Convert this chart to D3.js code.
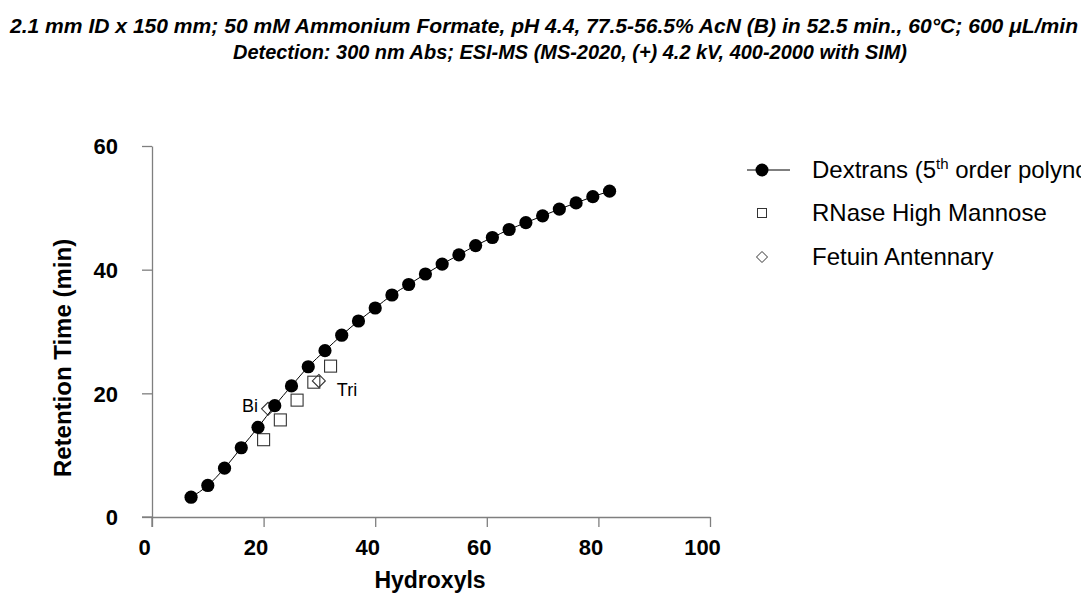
<!DOCTYPE html>
<html><head><meta charset="utf-8">
<script src="https://cdn.jsdelivr.net/npm/d3@7"></script>
<style>body{margin:0;background:#fff} svg{display:block}</style>
</head><body>
<svg id="c" width="1081" height="594"></svg>
<script>
// ---- data ----
const dextranHydroxyls = [7,10,13,16,19,22,25,28,31,34,37,40,43,46,49,52,55,58,61,64,67,70,73,76,79,82];
const dextranRT = [3.2,5.1,7.9,11.2,14.5,18.0,21.2,24.3,26.9,29.4,31.7,33.8,35.9,37.6,39.3,40.9,42.4,43.9,45.2,46.5,47.6,48.7,49.8,50.8,51.8,52.7];
const rnaseHydroxyls = [20,23,26,29,32];
const rnaseRT = [12.5,15.7,18.9,21.8,24.4];
const fetuinLabels = ["Bi","Tri"];
const fetuinHydroxyls = [20.8,29.9];
const fetuinRT = [17.5,22.0];
const xTicks = [0,20,40,60,80,100];
const yTicks = [0,20,40,60];
const titleLines = [
  "2.1 mm ID x 150 mm; 50 mM Ammonium Formate, pH 4.4, 77.5-56.5% AcN (B) in 52.5 min., 60°C; 600 \u03BCL/min",
  "Detection: 300 nm Abs; ESI-MS (MS-2020, (+) 4.2 kV, 400-2000 with SIM)"
];
const xTitle = "Hydroxyls";
const yTitle = "Retention Time (min)";
const legendLabels = ["Dextrans (5", "RNase High Mannose", "Fetuin Antennary"];

// ---- chart ----
const svg = d3.select("#c");
const FONT = "'Liberation Sans', Arial, sans-serif";
const x = d3.scaleLinear().domain([0,100]).range([152,710]);
const y = d3.scaleLinear().domain([0,60]).range([517,146]);
const axisColor = "#7f7f7f";

// titles
svg.append("text").attr("x",10).attr("y",33).attr("font-family",FONT)
  .attr("font-size",20).attr("font-weight","bold").attr("font-style","italic")
  .attr("textLength",1068).attr("lengthAdjust","spacingAndGlyphs").text(titleLines[0]);
svg.append("text").attr("x",233).attr("y",59).attr("font-family",FONT)
  .attr("font-size",20).attr("font-weight","bold").attr("font-style","italic")
  .attr("textLength",674).attr("lengthAdjust","spacingAndGlyphs").text(titleLines[1]);

// axes
const xAxis = svg.append("g").attr("transform",`translate(0,${y(0)})`)
  .call(d3.axisBottom(x).tickValues(xTicks).tickSize(10).tickSizeOuter(0).tickPadding(12));
const yAxis = svg.append("g").attr("transform",`translate(${x(0)},0)`)
  .call(d3.axisLeft(y).tickValues(yTicks).tickSize(10).tickSizeOuter(0).tickPadding(24));
[xAxis,yAxis].forEach(g=>{
  g.select(".domain").attr("stroke",axisColor).attr("stroke-width",1.3);
  g.selectAll(".tick line").attr("stroke",axisColor).attr("stroke-width",1.3);
  g.selectAll(".tick text").attr("fill","#000").attr("font-family",FONT)
   .attr("font-size",22).attr("font-weight","bold");
});
xAxis.selectAll(".tick text").attr("dx",-8);
yAxis.selectAll(".tick text").attr("dy","0.36em");
xAxis.append("line").attr("x1",x(0)-10).attr("x2",x(0)).attr("y1",0).attr("y2",0)
  .attr("stroke",axisColor).attr("stroke-width",1.3);
yAxis.append("line").attr("x1",0).attr("x2",0).attr("y1",y(0)).attr("y2",y(0)+10)
  .attr("stroke",axisColor).attr("stroke-width",1.3);

// axis titles
svg.append("text").attr("x",430).attr("y",588).attr("text-anchor","middle")
  .attr("font-family",FONT).attr("font-size",23).attr("font-weight","bold").text(xTitle);
svg.append("text").attr("transform",`translate(71,358) rotate(-90)`)
  .attr("text-anchor","middle").attr("font-family",FONT).attr("font-size",24)
  .attr("font-weight","bold").text(yTitle);

// RNase squares
const sq = 12;
svg.append("g").selectAll("rect").data(rnaseHydroxyls.map((h,i)=>[h,rnaseRT[i]])).join("rect")
  .attr("x",d=>x(d[0])-sq/2).attr("y",d=>y(d[1])-sq/2).attr("width",sq).attr("height",sq)
  .attr("fill","none").attr("stroke","#333").attr("stroke-width",1.1);

// Fetuin diamonds
const dm = 6.5;
const diamond = (cx,cy,r)=>`M${cx},${cy-r}L${cx+r},${cy}L${cx},${cy+r}L${cx-r},${cy}Z`;
svg.append("g").selectAll("path").data(fetuinHydroxyls.map((h,i)=>[h,fetuinRT[i]])).join("path")
  .attr("d",d=>diamond(x(d[0]),y(d[1]),dm)).attr("fill","none").attr("stroke","#333").attr("stroke-width",1.1);
svg.append("text").attr("x",x(fetuinHydroxyls[0])-10).attr("y",y(fetuinRT[0])+3)
  .attr("text-anchor","end").attr("font-family",FONT).attr("font-size",18).text(fetuinLabels[0]);
svg.append("text").attr("x",x(fetuinHydroxyls[1])+18).attr("y",y(fetuinRT[1])+15)
  .attr("text-anchor","start").attr("font-family",FONT).attr("font-size",18).text(fetuinLabels[1]);

// Dextran line and dots
const dex = dextranHydroxyls.map((h,i)=>[h,dextranRT[i]]);
svg.append("path").datum(dex)
  .attr("d",d3.line().x(d=>x(d[0])).y(d=>y(d[1])).curve(d3.curveMonotoneX))
  .attr("fill","none").attr("stroke","#000").attr("stroke-width",1);
svg.append("g").selectAll("circle").data(dex).join("circle")
  .attr("cx",d=>x(d[0])).attr("cy",d=>y(d[1])).attr("r",6.6).attr("fill","#000");

// legend
const lg = svg.append("g");
const lx = 762, ly = [170,213,257];
lg.append("line").attr("x1",lx-15).attr("x2",lx+28).attr("y1",ly[0]).attr("y2",ly[0])
  .attr("stroke","#000").attr("stroke-width",1);
lg.append("circle").attr("cx",lx).attr("cy",ly[0]).attr("r",6.5).attr("fill","#000");
lg.append("rect").attr("x",lx-4.5).attr("y",ly[1]-4.5).attr("width",9).attr("height",9)
  .attr("fill","none").attr("stroke","#333").attr("stroke-width",1);
lg.append("path").attr("d",diamond(lx,ly[2],5.5)).attr("fill","none").attr("stroke","#333").attr("stroke-width",1);
const t0 = lg.append("text").attr("x",812).attr("y",ly[0]+8).attr("font-family",FONT).attr("font-size",24);
t0.append("tspan").text(legendLabels[0]);
t0.append("tspan").attr("font-size",15).attr("dy",-9).text("th");
t0.append("tspan").attr("dy",9).text(" order polynomial)");
lg.append("text").attr("x",812).attr("y",ly[1]+8).attr("font-family",FONT).attr("font-size",24).text(legendLabels[1]);
lg.append("text").attr("x",812).attr("y",ly[2]+8).attr("font-family",FONT).attr("font-size",24).text(legendLabels[2]);
</script>
</body></html>
